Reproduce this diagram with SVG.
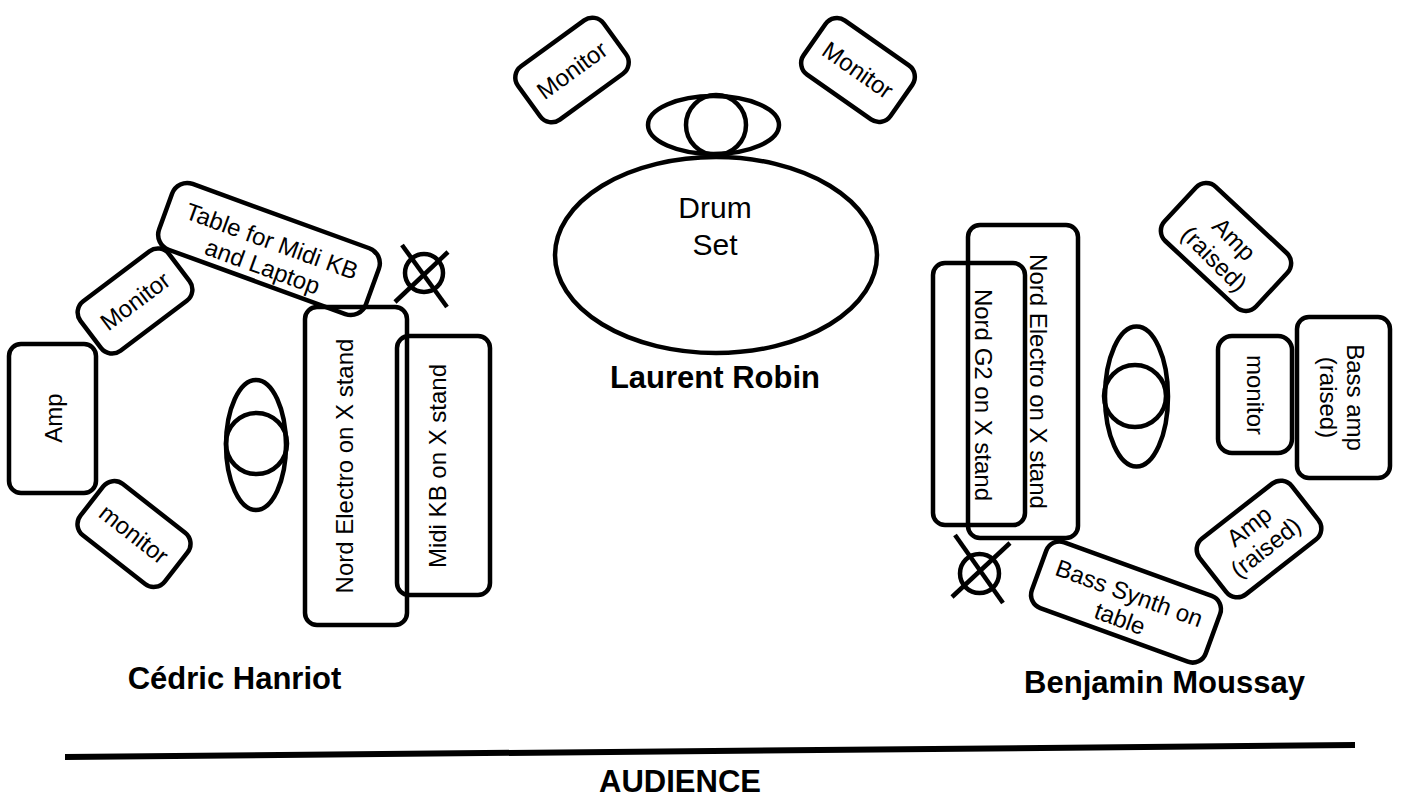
<svg xmlns="http://www.w3.org/2000/svg" width="1401" height="797" viewBox="0 0 1401 797">
<style>
.b{fill:none;stroke:#000;stroke-width:4.5}
.t{font-family:"Liberation Sans",Arial,Helvetica,sans-serif;font-size:24px;text-anchor:middle;fill:#000}
.d{font-size:30px}
.n{font-family:"Liberation Sans",Arial,Helvetica,sans-serif;font-size:31px;font-weight:bold;text-anchor:middle;fill:#000}
</style>
<rect width="1401" height="797" fill="#fff"/>

<!-- Drummer area -->
<g id="monitor-top-left" transform="translate(572,70) rotate(-36)">
<rect class="b" x="-53" y="-33" width="106" height="66" rx="14"/>
<text class="t" y="8.5">Monitor</text>
</g>
<g id="monitor-top-right" transform="translate(858,70) rotate(35)">
<rect class="b" x="-53" y="-33" width="106" height="66" rx="14"/>
<text class="t" y="8.5">Monitor</text>
</g>
<g id="drummer">
<ellipse class="b" cx="713.5" cy="125" rx="65.5" ry="29"/>
<circle class="b" cx="716" cy="125" r="30"/>
</g>
<g id="drum-set">
<ellipse class="b" cx="716" cy="255" rx="161" ry="98"/>
<text class="t d" x="715" y="218">Drum</text>
<text class="t d" x="715" y="255">Set</text>
</g>
<text id="label-laurent" class="n" x="715" y="388">Laurent Robin</text>

<!-- Cedric area -->
<g id="table-midi" transform="translate(269,249) rotate(20)">
<rect class="b" x="-110" y="-35" width="220" height="70" rx="16"/>
<text class="t" y="0">Table for Midi KB</text>
<text class="t" y="27">and Laptop</text>
</g>
<g id="monitor-left-upper" transform="translate(135,301) rotate(-37)">
<rect class="b" x="-55.5" y="-31" width="111" height="62" rx="14"/>
<text class="t" y="8.5">Monitor</text>
</g>
<g id="amp-left">
<rect class="b" x="9" y="344" width="87" height="149" rx="12"/>
<text class="t" transform="translate(53,418) rotate(-90)" y="8.5">Amp</text>
</g>
<g id="monitor-left-lower" transform="translate(134,534) rotate(38)">
<rect class="b" x="-53.5" y="-32.5" width="107" height="65" rx="14"/>
<text class="t" y="8.5">monitor</text>
</g>
<g id="cedric">
<ellipse class="b" cx="256" cy="445" rx="30" ry="65"/>
<circle class="b" cx="256.5" cy="443.5" r="30.5"/>
</g>
<g id="nord-electro-left">
<rect class="b" x="305" y="307" width="102" height="318" rx="12"/>
<text class="t" transform="translate(344,466) rotate(-90)" y="8.5">Nord Electro on X stand</text>
</g>
<g id="midi-kb">
<rect class="b" x="397" y="336" width="93" height="259" rx="12"/>
<text class="t" transform="translate(437.5,466) rotate(-90)" y="8.5">Midi KB on X stand</text>
</g>
<g id="stand-left">
<circle class="b" cx="424" cy="273" r="19"/>
<line class="b" x1="402" y1="245" x2="447" y2="307"/>
<line class="b" x1="448" y1="252" x2="395" y2="302"/>
</g>
<text id="label-cedric" class="n" x="234.5" y="689">Cédric Hanriot</text>

<!-- Benjamin area -->
<g id="nord-electro-right">
<rect class="b" x="968" y="225" width="110" height="313" rx="12"/>
<text class="t" transform="translate(1038.5,381.5) rotate(90)" y="8.5">Nord Electro on X stand</text>
</g>
<g id="nord-g2">
<rect class="b" x="933" y="263" width="92" height="262" rx="12"/>
<text class="t" transform="translate(983.5,395) rotate(90)" y="8.5">Nord G2 on X stand</text>
</g>
<g id="benjamin">
<ellipse class="b" cx="1136.5" cy="396.5" rx="31.5" ry="70"/>
<circle class="b" cx="1135" cy="396" r="31"/>
</g>
<g id="amp-raised-upper" transform="translate(1226,247) rotate(45)">
<rect class="b" x="-62.5" y="-37" width="125" height="74" rx="14" transform="rotate(-2)"/>
<text class="t" y="-3">Amp</text>
<text class="t" y="25">(raised)</text>
</g>
<g id="monitor-right">
<rect class="b" x="1218" y="336" width="74" height="117" rx="14"/>
<text class="t" transform="translate(1255.5,395) rotate(90)" y="8.5">monitor</text>
</g>
<g id="bass-amp">
<rect class="b" x="1297" y="317" width="93" height="161" rx="12"/>
<g transform="translate(1340,397.5) rotate(90)">
<text class="t" y="-7">Bass amp</text>
<text class="t" y="20">(raised)</text>
</g>
</g>
<g id="amp-raised-lower" transform="translate(1259,539) rotate(-38)">
<rect class="b" x="-58.5" y="-35.5" width="117" height="71" rx="14"/>
<text class="t" y="-8">Amp</text>
<text class="t" y="19">(raised)</text>
</g>
<g id="bass-synth" transform="translate(1126,602) rotate(20)">
<rect class="b" x="-92.5" y="-35" width="185" height="70" rx="14"/>
<text class="t" y="-1">Bass Synth on</text>
<text class="t" y="26">table</text>
</g>
<g id="stand-right">
<circle class="b" cx="979.5" cy="573.5" r="19.5"/>
<line class="b" x1="955" y1="535" x2="1003" y2="603"/>
<line class="b" x1="1010" y1="543" x2="952" y2="597"/>
</g>
<text id="label-benjamin" class="n" x="1164.5" y="693">Benjamin Moussay</text>

<!-- Audience -->
<g id="connectors">
<line x1="65" y1="757" x2="1355" y2="745" stroke="#000" stroke-width="6"/>
</g>
<text id="label-audience" class="n" x="680" y="792">AUDIENCE</text>
</svg>
